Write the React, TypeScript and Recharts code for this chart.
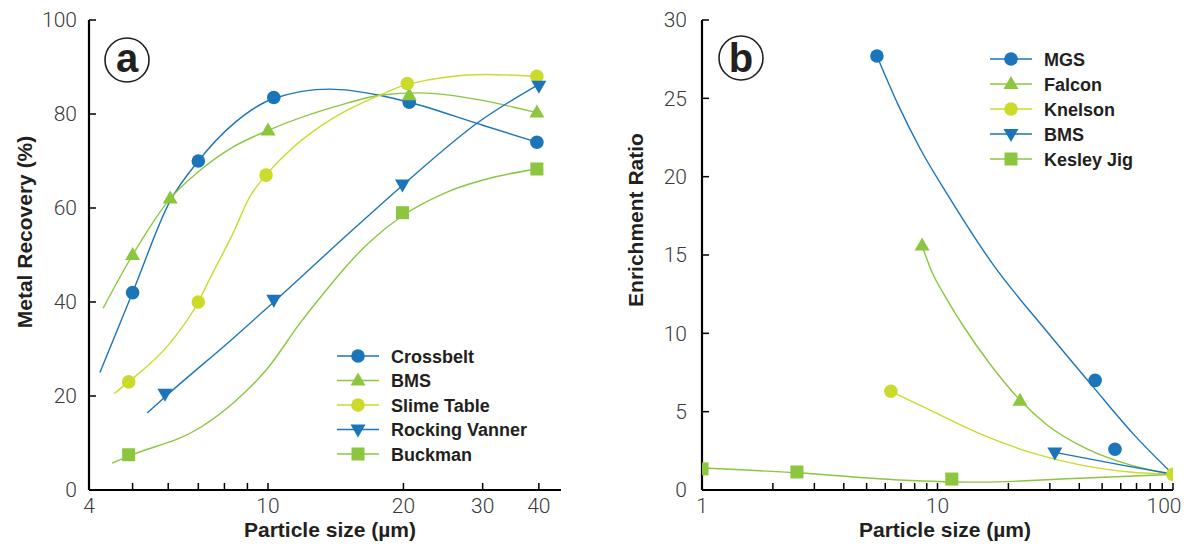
import React from 'react';
import { ComposedChart, Line, Scatter, XAxis, YAxis, Legend, Label } from 'recharts';

const BLUE = '#1b75bb';
const GREEN = '#8cc63f';
const YELLOW = '#cbdb2a';
const INK = '#231f20';

const BOLD = "'Liberation Sans', Arial, sans-serif";
const LIGHT = "Roboto, 'Liberation Sans', sans-serif";

// ---- panel a: particle size (um) vs metal recovery (%) ----
const ticksA = [4, 5, 6, 7, 8, 9, 10, 20, 30, 40];
const labelsA = [4, 10, 20, 30, 40];
const yTicksA = [0, 20, 40, 60, 80, 100];

const crossbeltPts = [{ x: 5.0, y: 42 }, { x: 7.0, y: 70 }, { x: 10.3, y: 83.5 }, { x: 20.6, y: 82.5 }, { x: 39.6, y: 74 }];
const crossbeltFit = [
  { x: 4.23, y: 25 }, { x: 5.0, y: 42 }, { x: 6.06, y: 61.5 }, { x: 7.0, y: 70 }, { x: 8.4, y: 78 },
  { x: 10.3, y: 83.3 }, { x: 13.7, y: 85.3 }, { x: 17.7, y: 84 }, { x: 20.6, y: 82.5 }, { x: 30, y: 77.6 }, { x: 39.6, y: 74 },
];
const bmsPts = [{ x: 5.0, y: 50 }, { x: 6.06, y: 62 }, { x: 10, y: 76.5 }, { x: 20.6, y: 84 }, { x: 39.6, y: 80.3 }];
const bmsFit = [
  { x: 4.3, y: 38.7 }, { x: 5.0, y: 50 }, { x: 6.06, y: 62 }, { x: 7.0, y: 67.7 }, { x: 8.37, y: 73 }, { x: 10, y: 76.5 },
  { x: 15, y: 82.3 }, { x: 17.7, y: 84 }, { x: 21.7, y: 84.5 }, { x: 29.6, y: 83 }, { x: 35, y: 81.5 }, { x: 39.6, y: 80.3 },
];
const slimePts = [{ x: 4.9, y: 23 }, { x: 7.0, y: 40 }, { x: 9.9, y: 67 }, { x: 20.4, y: 86.5 }, { x: 39.6, y: 88 }];
const slimeFit = [
  { x: 4.55, y: 20.5 }, { x: 4.9, y: 23 }, { x: 6.06, y: 31.3 }, { x: 7.0, y: 40 }, { x: 7.4, y: 44.7 }, { x: 8.37, y: 54.7 },
  { x: 9.1, y: 62.3 }, { x: 9.9, y: 67 }, { x: 11.4, y: 73 }, { x: 12.6, y: 76.3 }, { x: 15, y: 80.8 }, { x: 18, y: 84.3 },
  { x: 20.4, y: 86.3 }, { x: 30.6, y: 88.4 }, { x: 39.6, y: 88 },
];
const vannerPts = [{ x: 5.9, y: 20.5 }, { x: 10.3, y: 40.5 }, { x: 19.9, y: 65 }, { x: 40, y: 86 }];
const vannerFit = [
  { x: 5.39, y: 16.4 }, { x: 5.9, y: 19.8 }, { x: 8.37, y: 32.3 }, { x: 10.3, y: 40 }, { x: 15, y: 54.3 },
  { x: 19.9, y: 64.8 }, { x: 29.6, y: 78.5 }, { x: 40, y: 86.3 },
];
const buckmanPts = [{ x: 4.9, y: 7.5 }, { x: 19.9, y: 59 }, { x: 39.6, y: 68.3 }];
const buckmanFit = [
  { x: 4.5, y: 5.7 }, { x: 4.9, y: 7.2 }, { x: 7.1, y: 13.4 }, { x: 8.37, y: 18.5 }, { x: 10, y: 26 }, { x: 11.78, y: 35.5 },
  { x: 13.87, y: 44 }, { x: 15.22, y: 48.5 }, { x: 16.85, y: 52.8 }, { x: 19.86, y: 58.3 }, { x: 25, y: 63.4 },
  { x: 31.9, y: 66.6 }, { x: 39.6, y: 68.3 },
];

// ---- panel b: particle size (um) vs enrichment ratio ----
const ticksB = [1, 2, 3, 4, 5, 6, 7, 8, 9, 10, 20, 30, 40, 50, 60, 70, 80, 90, 100];
const labelsB = [1, 10, 100];
const yTicksB = [0, 5, 10, 15, 20, 25, 30];

const mgsPts = [{ x: 5.53, y: 27.7 }, { x: 46.7, y: 7 }, { x: 56.7, y: 2.6 }];
const mgsFit = [
  { x: 5.53, y: 27.7 }, { x: 6.8, y: 24.6 }, { x: 8.5, y: 21.7 }, { x: 11.3, y: 18.6 }, { x: 17.2, y: 14.4 },
  { x: 29.2, y: 10.1 }, { x: 45.7, y: 6.6 }, { x: 67.6, y: 3.6 }, { x: 100, y: 1 },
];
const falconPts = [{ x: 8.6, y: 15.6 }, { x: 22.4, y: 5.7 }];
const falconFit = [
  { x: 8.6, y: 15.6 }, { x: 9.48, y: 13.9 }, { x: 10.76, y: 12.38 }, { x: 12.83, y: 10.5 }, { x: 16.7, y: 8.04 },
  { x: 22.4, y: 5.74 }, { x: 29.2, y: 4.15 }, { x: 43.1, y: 2.62 }, { x: 65.7, y: 1.6 }, { x: 100, y: 1 },
];
const knelsonPts = [{ x: 6.34, y: 6.3 }, { x: 100, y: 1 }];
const knelsonFit = [
  { x: 6.34, y: 6.3 }, { x: 9.3, y: 5.1 }, { x: 15.1, y: 3.6 }, { x: 24.8, y: 2.4 }, { x: 40.3, y: 1.6 },
  { x: 65.6, y: 1.15 }, { x: 100, y: 1 },
];
const bmsBPts = [{ x: 31.5, y: 2.4 }];
const bmsBFit = [{ x: 31.5, y: 2.4 }, { x: 60, y: 1.6 }, { x: 100, y: 1 }];
const kesleyPts = [{ x: 1, y: 1.35 }, { x: 2.53, y: 1.15 }, { x: 11.5, y: 0.7 }];
const kesleyFit = [
  { x: 1, y: 1.4 }, { x: 2.53, y: 1.1 }, { x: 6.9, y: 0.64 }, { x: 15, y: 0.5 }, { x: 40, y: 0.75 }, { x: 100, y: 1 },
];

type Kind = 'circle' | 'up' | 'down' | 'square';

const seriesA = [
  { name: 'Crossbelt', color: BLUE, marker: 'circle' as Kind, pts: crossbeltPts, fit: crossbeltFit },
  { name: 'BMS', color: GREEN, marker: 'up' as Kind, pts: bmsPts, fit: bmsFit },
  { name: 'Slime Table', color: YELLOW, marker: 'circle' as Kind, pts: slimePts, fit: slimeFit },
  { name: 'Rocking Vanner', color: BLUE, marker: 'down' as Kind, pts: vannerPts, fit: vannerFit },
  { name: 'Buckman', color: GREEN, marker: 'square' as Kind, pts: buckmanPts, fit: buckmanFit },
];

const seriesB = [
  { name: 'MGS', color: BLUE, marker: 'circle' as Kind, pts: mgsPts, fit: mgsFit },
  { name: 'Falcon', color: GREEN, marker: 'up' as Kind, pts: falconPts, fit: falconFit },
  { name: 'Knelson', color: YELLOW, marker: 'circle' as Kind, pts: knelsonPts, fit: knelsonFit },
  { name: 'BMS', color: BLUE, marker: 'down' as Kind, pts: bmsBPts, fit: bmsBFit },
  { name: 'Kesley Jig', color: GREEN, marker: 'square' as Kind, pts: kesleyPts, fit: kesleyFit },
];

const Marker = ({ kind, cx, cy, fill }: { kind: Kind; cx: number; cy: number; fill: string }) => {
  if (kind === 'up') return <polygon points={`${cx},${cy - 8} ${cx + 7.5},${cy + 5} ${cx - 7.5},${cy + 5}`} fill={fill} />;
  if (kind === 'down') return <polygon points={`${cx},${cy + 8} ${cx + 7.5},${cy - 5} ${cx - 7.5},${cy - 5}`} fill={fill} />;
  if (kind === 'square') return <rect x={cx - 6.5} y={cy - 6.5} width={13} height={13} fill={fill} />;
  return <circle cx={cx} cy={cy} r={6.8} fill={fill} />;
};

const LegendBox = ({ items, gap }: { items: typeof seriesA; gap: number }) => (
  <svg width={230} height={140} style={{ overflow: 'visible' }}>
    {items.map((s, i) => {
      const cy = 10 + i * gap;
      return (
        <g key={s.name + i}>
          <line x1={0} x2={42} y1={cy} y2={cy} stroke={s.color} strokeWidth={1.5} />
          <Marker kind={s.marker} cx={21} cy={cy} fill={s.color} />
          <text x={54} y={cy + 6.5} fontFamily={BOLD} fontWeight="bold" fontSize={18} fill={INK}>{s.name}</text>
        </g>
      );
    })}
  </svg>
);

const tickStyle = { fontSize: 21, fill: '#3a3a3a', fontFamily: LIGHT, fontWeight: 300 };
const axisLine = { stroke: '#000', strokeWidth: 2.2 };
const tickLine = { stroke: '#000', strokeWidth: 1.5 };

// bottom tick label; the last one is nudged in so it stays on the page
const XTick = ({ x, y, payload, labels, shiftLast }: any) => {
  const v = payload.value;
  if (!labels.includes(v)) return null;
  const dx = shiftLast && v === labels[labels.length - 1] ? -9 : 0;
  return (
    <text x={x + dx} y={y} dy="0.71em" textAnchor="middle" {...tickStyle}>{v}</text>
  );
};

const Panel = ({
  series, xDomain, xTicks, xLabels, yDomain, yTicks, width, margin, yTickMargin,
  yTitle, yTitleX, yTitleY, xTitleX, legendPos, gap, shiftLast,
}: any) => (
  <ComposedChart width={width} height={553} margin={margin}>
    <XAxis
      xAxisId="x" dataKey="x" type="number" scale="log" domain={xDomain} allowDataOverflow
      ticks={xTicks} tick={<XTick labels={xLabels} shiftLast={shiftLast} />}
      tickSize={-7} tickMargin={15} height={40} axisLine={axisLine} tickLine={tickLine}
      interval={0}
    >
      <Label content={() => (
        <text x={xTitleX} y={537} textAnchor="middle" fontFamily={BOLD} fontWeight="bold" fontSize={21} fill={INK}>
          Particle size (µm)
        </text>
      )} />
    </XAxis>
    <XAxis
      xAxisId="xt" orientation="top" dataKey="x" type="number" scale="log" domain={xDomain} allowDataOverflow
      ticks={xTicks} tickFormatter={() => ''} tickSize={-7} height={0} axisLine={axisLine} tickLine={tickLine}
      interval={0}
    />
    <YAxis
      yAxisId="y" type="number" domain={yDomain} ticks={yTicks} tick={tickStyle} tickSize={-7}
      tickMargin={yTickMargin} width={60} axisLine={axisLine} tickLine={tickLine} interval={0}
    >
      <Label content={() => (
        <text transform={`translate(${yTitleX},${yTitleY}) rotate(-90)`} textAnchor="middle" fontFamily={BOLD}
          fontWeight="bold" fontSize={21} fill={INK}>
          {yTitle}
        </text>
      )} />
    </YAxis>
    <YAxis
      yAxisId="yr" orientation="right" type="number" domain={yDomain} ticks={yTicks} tickFormatter={() => ''}
      tickSize={-7} width={0} axisLine={axisLine} tickLine={tickLine} interval={0}
    />
    {series.map((s: any, i: number) => (
      <Line
        key={'l' + i} xAxisId="x" yAxisId="y" data={s.fit} dataKey="y" type="monotone" stroke={s.color}
        strokeWidth={1.4} dot={false} activeDot={false} isAnimationActive={false} legendType="none"
      />
    ))}
    {series.map((s: any, i: number) => (
      <Scatter
        key={'s' + i} xAxisId="x" yAxisId="y" data={s.pts} dataKey="y" fill={s.color} isAnimationActive={false}
        legendType="none"
        shape={(p: any) => <Marker kind={s.marker} cx={p.cx} cy={p.cy} fill={s.color} />}
      />
    ))}
    <Legend
      layout="vertical" align="center" verticalAlign="middle"
      wrapperStyle={{ position: 'absolute', left: legendPos[0], top: legendPos[1], width: 230, height: 140 }}
      content={() => <LegendBox items={series} gap={gap} />}
    />
  </ComposedChart>
);

export default function App() {
  return (
    <div style={{ position: 'absolute', left: 0, top: 0, width: 1186, height: 553, background: '#fff' }}>
      <div style={{ position: 'absolute', left: 0, top: 0 }}>
        <Panel
          series={seriesA} xDomain={[4, 44.8]} xTicks={ticksA} xLabels={labelsA} yDomain={[0, 100]} yTicks={yTicksA}
          width={600} margin={{ top: 20, right: 39, bottom: 23, left: 29 }} yTickMargin={19}
          yTitle="Metal Recovery (%)" yTitleX={32} yTitleY={232} xTitleX={330} legendPos={[337, 346]} gap={24.5}
          shiftLast={false}
        />
      </div>
      <div style={{ position: 'absolute', left: 600, top: 0 }}>
        <Panel
          series={seriesB} xDomain={[1, 100]} xTicks={ticksB} xLabels={labelsB} yDomain={[0, 30]} yTicks={yTicksB}
          width={586} margin={{ top: 20, right: 13, bottom: 23, left: 42 }} yTickMargin={22}
          yTitle="Enrichment Ratio" yTitleX={43} yTitleY={220} xTitleX={345} legendPos={[390, 49]} gap={25}
          shiftLast
        />
      </div>
      <svg width={1186} height={553} style={{ position: 'absolute', left: 0, top: 0, pointerEvents: 'none' }}>
        <circle cx={127} cy={60} r={22} fill="none" stroke={INK} strokeWidth={1.6} />
        <text x={127} y={72} textAnchor="middle" fontFamily={BOLD} fontWeight="bold" fontSize={40} fill={INK}>a</text>
        <circle cx={741} cy={58} r={22} fill="none" stroke={INK} strokeWidth={1.6} />
        <text x={741} y={72} textAnchor="middle" fontFamily={BOLD} fontWeight="bold" fontSize={40} fill={INK}>b</text>
      </svg>
    </div>
  );
}
